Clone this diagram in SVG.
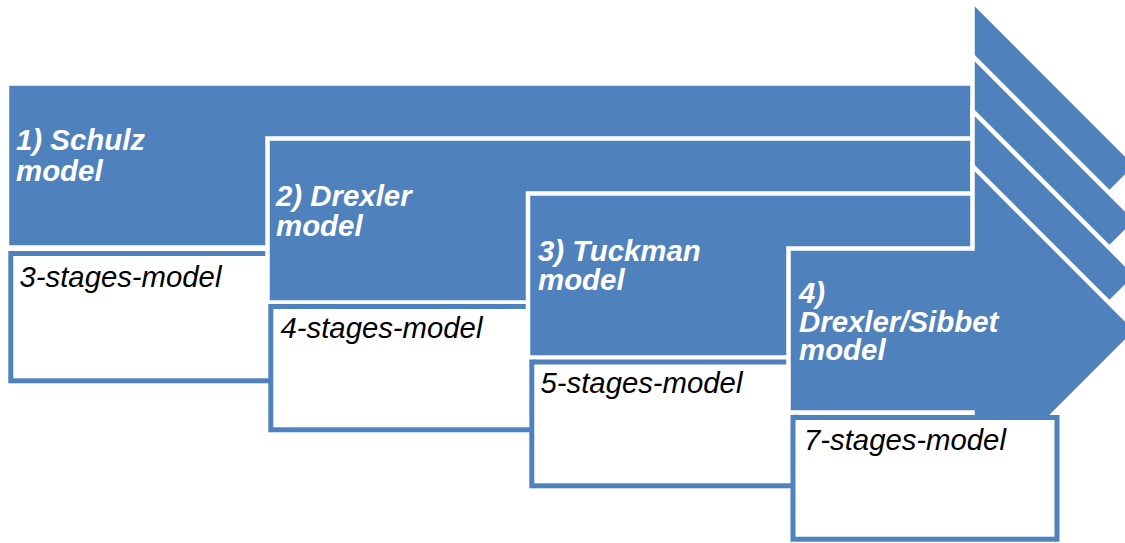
<svg xmlns="http://www.w3.org/2000/svg" width="1125" height="543" viewBox="0 0 1125 543">
<style>
.arrow{fill:#4F81BD;stroke:#FFFFFF;stroke-width:4.5;stroke-linejoin:miter}
.box{fill:#FFFFFF;stroke:#4F81BD;stroke-width:5}
.ttl{font-family:"Liberation Sans",Arial,sans-serif;font-size:29.4px;font-weight:bold;font-style:italic;fill:#FFFFFF}
.sub{font-family:"Liberation Sans",Arial,sans-serif;font-size:29.3px;font-style:italic;fill:#000000}
</style>
<rect width="1125" height="543" fill="#FFFFFF"/>
<g id="connectors"></g>
<g id="node1">
<path class="arrow" d="M7,83.5 H972.5 V1 L1137,165.5 L972.5,330 V247.5 H7 Z"/>
<text class="ttl" x="16" y="150">1) Schulz<tspan x="16" dy="30.5">model</tspan></text>
</g>
<g id="box1">
<rect class="box" x="10.8" y="253.5" width="264" height="127.3"/>
<text class="sub" x="19.5" y="286.5">3-stages-model</text>
</g>
<g id="node2">
<path class="arrow" d="M267.5,138.5 H972.5 V56 L1137,220.5 L972.5,385 V302.5 H267.5 Z"/>
<text class="ttl" x="276" y="206">2) Drexler<tspan x="276" dy="29.5">model</tspan></text>
</g>
<g id="box2">
<rect class="box" x="270.8" y="306.5" width="264" height="123.3"/>
<text class="sub" x="280.5" y="338.3">4-stages-model</text>
</g>
<g id="node3">
<path class="arrow" d="M528,193.5 H972.5 V111 L1137,275.5 L972.5,440 V357.5 H528 Z"/>
<text class="ttl" x="538" y="260.7">3) Tuckman<tspan x="538" dy="29.3">model</tspan></text>
</g>
<g id="box3">
<rect class="box" x="531.8" y="362" width="264" height="123.8"/>
<text class="sub" x="540.5" y="393.3">5-stages-model</text>
</g>
<g id="node4">
<path class="arrow" d="M788.5,248.5 H972.5 V166 L1137,330.5 L972.5,495 V412.5 H788.5 Z"/>
<text class="ttl" x="799" y="303">4)<tspan x="799" dy="28.5">Drexler/Sibbet</tspan><tspan x="799" dy="28.5">model</tspan></text>
</g>
<g id="box4">
<rect class="box" x="793" y="417.5" width="264" height="121.7"/>
<text class="sub" x="804" y="450">7-stages-model</text>
</g>
</svg>
